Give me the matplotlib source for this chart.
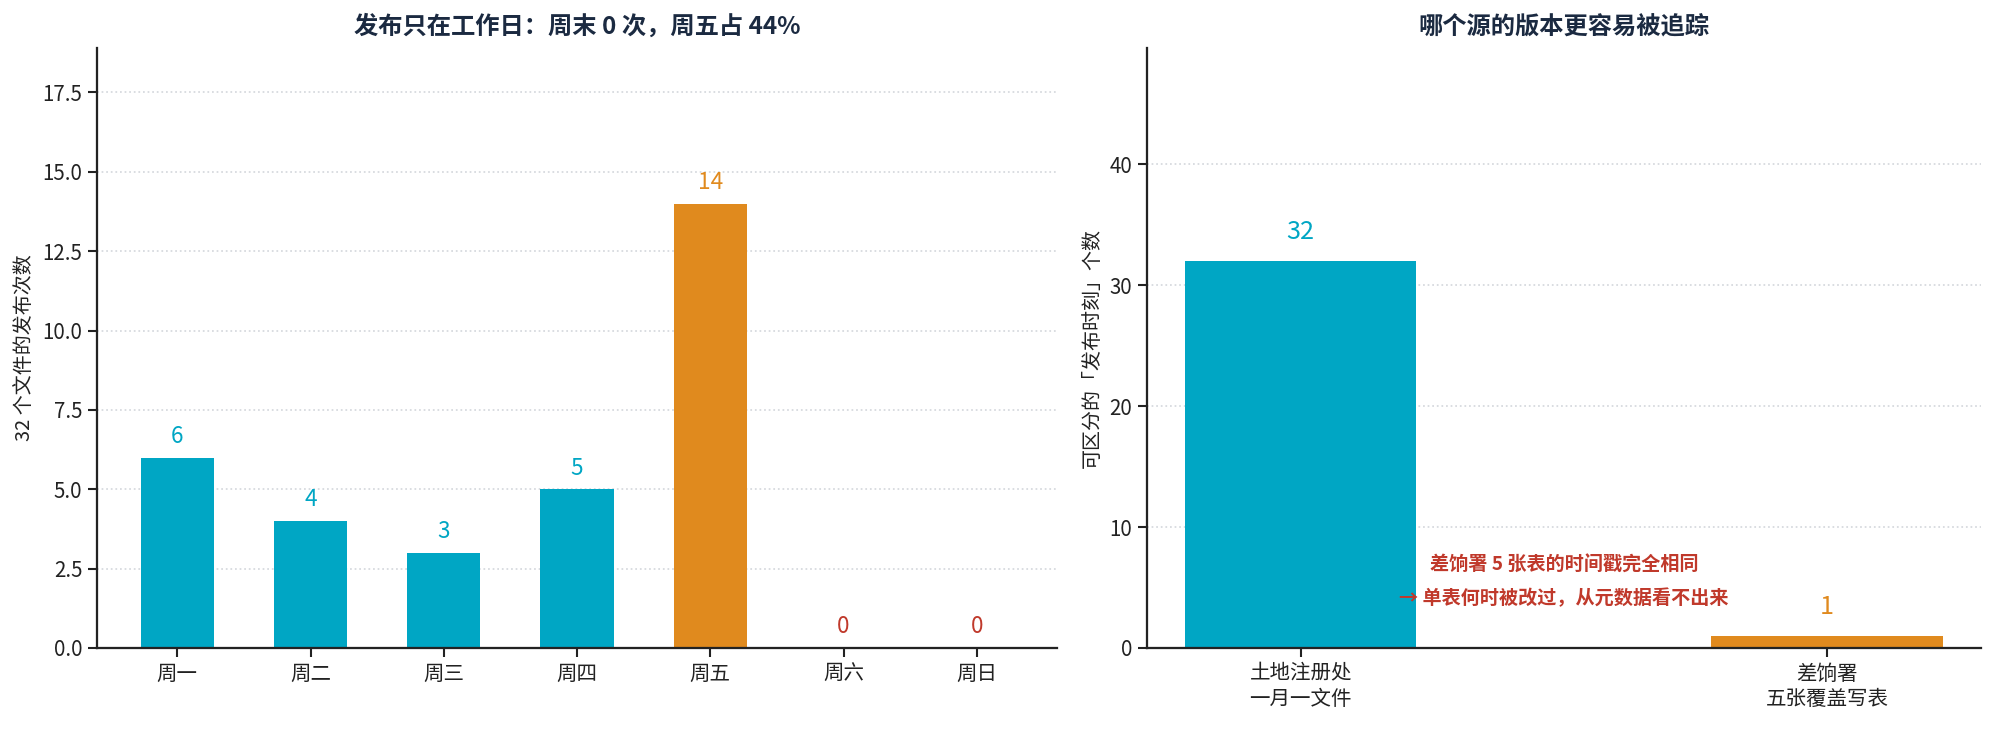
import matplotlib
matplotlib.use("Agg")
import matplotlib.pyplot as plt

plt.rcParams['font.family'] = ['Noto Sans CJK SC', 'DejaVu Sans']
plt.rcParams['axes.unicode_minus'] = False

# data
days = ['周一', '周二', '周三', '周四', '周五', '周六', '周日']
day_counts = [6, 4, 3, 5, 14, 0, 0]

sources = ['土地注册处\n一月一文件', '差饷署\n五张覆盖写表']
distinct_times = [32, 1]

TEAL = '#00A6C4'
ORANGE = '#E08A1E'
RED = '#C0392B'
NAVY = '#1B2A41'
DARK = '#222222'

fig = plt.figure(figsize=(15.968, 5.88), dpi=125)
ax1 = fig.add_axes([0.0486, 0.1184, 0.481, 0.8163])
ax2 = fig.add_axes([0.5746, 0.1184, 0.4178, 0.8163])


def style(ax):
    ax.spines['top'].set_visible(False)
    ax.spines['right'].set_visible(False)
    for s in ('left', 'bottom'):
        ax.spines[s].set_color(DARK)
        ax.spines[s].set_linewidth(1.3)
    ax.tick_params(colors=DARK, labelsize=11.8, length=5, width=1.2)
    ax.yaxis.grid(True, linestyle=':', color='#D5D8DD', linewidth=1)
    ax.set_axisbelow(True)


# left: weekday releases
style(ax1)
colors1 = []
for d, v in zip(days, day_counts):
    if v == max(day_counts):
        colors1.append(ORANGE)
    else:
        colors1.append(TEAL)
ax1.bar(days, day_counts, width=0.55, color=colors1)
for i, v in enumerate(day_counts):
    c = RED if v == 0 else colors1[i]
    ax1.text(i, v + 0.3, str(v), ha='center', va='bottom', color=c,
             fontsize=13, fontweight='medium')
ax1.set_ylim(0, max(day_counts) * 1.35)
ax1.set_ylabel('32 个文件的发布次数', fontsize=11.5, color=DARK)
ax1.set_title('发布只在工作日：周末 0 次，周五占 44%', fontsize=14,
              fontweight='bold', color=NAVY, pad=8)

# right: traceable versions
style(ax2)
ax2.bar(sources, distinct_times, width=0.44, color=[TEAL, ORANGE])
for i, v in enumerate(distinct_times):
    ax2.text(i, v + 1.3, str(v), ha='center', va='bottom',
             color=[TEAL, ORANGE][i], fontsize=14.5, fontweight='medium')
ax2.set_ylim(0, max(distinct_times) * 1.55)
ax2.set_ylabel('可区分的「发布时刻」个数', fontsize=11.5, color=DARK)
ax2.set_title('哪个源的版本更容易被追踪', fontsize=14,
              fontweight='bold', color=NAVY, pad=8)
ax2.text(0.5, 5.5, '差饷署 5 张表的时间戳完全相同\n→ 单表何时被改过，从元数据看不出来',
         ha='center', va='center', multialignment='center', color=RED,
         fontsize=11, fontweight='bold', linespacing=1.9)

fig.savefig('out.png', dpi=125)
